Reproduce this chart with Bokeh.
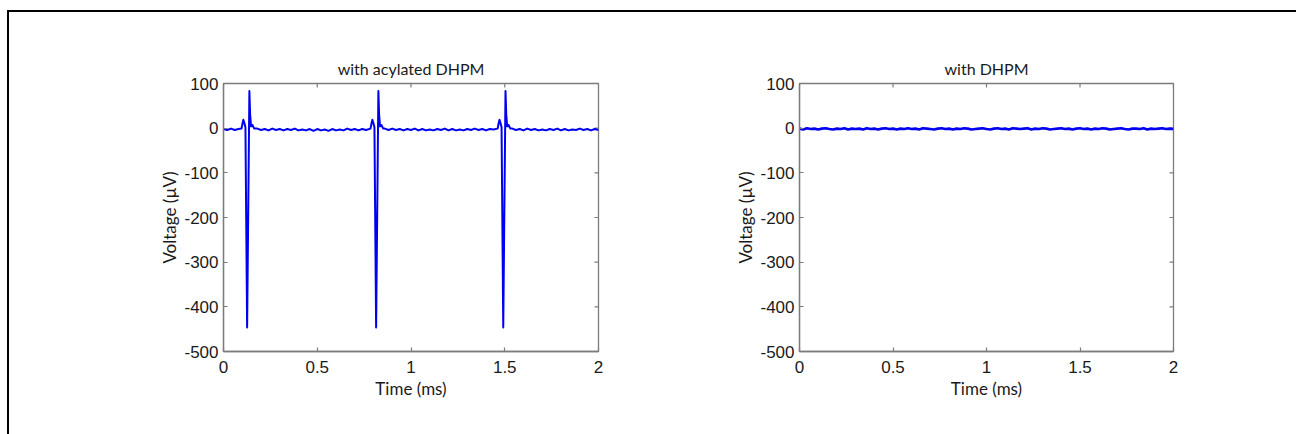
import math
from bokeh.plotting import figure
from bokeh.models import FixedTicker, Range1d, Div
from bokeh.layouts import row, column
from bokeh.embed import file_html
from bokeh.resources import INLINE

# ---------------- data ----------------
titles = ["with acylated DHPM", "with DHPM"]
x_label = "Time (ms)"
y_label = "Voltage (\u00b5V)"

x_ticks = [0, 0.5, 1, 1.5, 2]
x_tick_labels = ["0", "0.5", "1", "1.5", "2"]
y_ticks = [-500, -400, -300, -200, -100, 0, 100]
y_tick_labels = ["-500", "-400", "-300", "-200", "-100", "0", "100"]

# trace recorded with acylated DHPM (three spikes)
acyl_time = [
    0.00, 0.02, 0.04, 0.06, 0.08,
    0.096, 0.101, 0.106, 0.111, 0.117, 0.126, 0.138, 0.142, 0.147, 0.154, 0.164,
    0.18, 0.20, 0.22, 0.24, 0.26, 0.28, 0.30, 0.32, 0.34, 0.36,
    0.38, 0.40, 0.42, 0.44, 0.46, 0.48, 0.50, 0.52, 0.54, 0.56,
    0.58, 0.60, 0.62, 0.64, 0.66, 0.68, 0.70, 0.72, 0.74, 0.76,
    0.784, 0.789, 0.794, 0.799, 0.805, 0.814, 0.826, 0.830, 0.835, 0.842, 0.852,
    0.86, 0.88, 0.90, 0.92, 0.94, 0.96, 0.98, 1.00, 1.02, 1.04,
    1.06, 1.08, 1.10, 1.12, 1.14, 1.16, 1.18, 1.20, 1.22, 1.24,
    1.26, 1.28, 1.30, 1.32, 1.34, 1.36, 1.38, 1.40, 1.42, 1.44,
    1.462, 1.467, 1.472, 1.477, 1.483, 1.492, 1.504, 1.508, 1.513, 1.520, 1.530,
    1.54, 1.56, 1.58, 1.60, 1.62, 1.64, 1.66, 1.68, 1.70, 1.72,
    1.74, 1.76, 1.78, 1.80, 1.82, 1.84, 1.86, 1.88, 1.90, 1.92,
    1.94, 1.96, 1.98, 2.00,
]
acyl_voltage = [
    -2, -4, -1, -4, -2,
    -1, 10, 19, 12, 2, -446, 83, 30, 4, 7, -1,
    -1, -4, -2, -5, -1, -4, -2, -5, -2, -4,
    -1, -5, -3, -5, -2, -6, -2, -5, -3, -6,
    -2, -5, -3, -5, -1, -4, -2, -5, -2, -4,
    -1, 10, 19, 12, 2, -446, 83, 30, 4, 7, -1,
    -1, -4, -1, -4, -2, -5, -2, -4, -1, -5,
    -2, -5, -3, -5, -2, -4, -1, -5, -2, -5,
    -3, -5, -2, -4, -1, -4, -2, -5, -2, -3,
    -1, 10, 19, 12, 2, -446, 83, 30, 4, 7, -1,
    -1, -4, -2, -5, -1, -4, -2, -5, -3, -5,
    -2, -4, -1, -5, -2, -5, -3, -4, -1, -4,
    -2, -5, -2, -4,
]

# trace recorded with DHPM (flat)
dhpm_time = [
    0.00, 0.02, 0.04, 0.06, 0.08, 0.10, 0.12, 0.14, 0.16, 0.18,
    0.20, 0.22, 0.24, 0.26, 0.28, 0.30, 0.32, 0.34, 0.36, 0.38,
    0.40, 0.42, 0.44, 0.46, 0.48, 0.50, 0.52, 0.54, 0.56, 0.58,
    0.60, 0.62, 0.64, 0.66, 0.68, 0.70, 0.72, 0.74, 0.76, 0.78,
    0.80, 0.82, 0.84, 0.86, 0.88, 0.90, 0.92, 0.94, 0.96, 0.98,
    1.00, 1.02, 1.04, 1.06, 1.08, 1.10, 1.12, 1.14, 1.16, 1.18,
    1.20, 1.22, 1.24, 1.26, 1.28, 1.30, 1.32, 1.34, 1.36, 1.38,
    1.40, 1.42, 1.44, 1.46, 1.48, 1.50, 1.52, 1.54, 1.56, 1.58,
    1.60, 1.62, 1.64, 1.66, 1.68, 1.70, 1.72, 1.74, 1.76, 1.78,
    1.80, 1.82, 1.84, 1.86, 1.88, 1.90, 1.92, 1.94, 1.96, 1.98,
    2.00,
]
dhpm_voltage = [
    -1, -3, 0, -2, -1, -3, -1, 0, -2, -3,
    -1, -2, 0, -3, -1, -2, -1, -3, 0, -2,
    -1, -3, -1, 0, -2, -1, -3, -1, -2, 0,
    -2, -1, -3, 0, -1, -2, -3, -1, 0, -2,
    -1, -3, -1, -2, 0, -1, -3, -2, -1, 0,
    -2, -3, -1, 0, -2, -1, -3, 0, -1, -2,
    -1, 0, -3, -1, -2, 0, -1, -3, -2, -1,
    0, -2, -1, -3, -1, 0, -2, -1, -3, -1,
    -2, 0, -1, -3, -2, -1, 0, -2, -3, -1,
    -1, -2, 0, -3, -1, -2, -1, 0, -2, -1,
    -2,
]

# ---------------- styling ----------------
GRAY = "#7c7c7c"
TRACE = "#0000f0"
TEXT = "#1a1a1a"
TICK_FONT = "Liberation Sans"
LABEL_FONT = "Lato"
FIG_H = 420


def make_panel(title, t, v, width, mb_left, mb_right, mb_top, mb_bottom, lw):
    p = figure(width=width, height=FIG_H, output_backend="svg", toolbar_location=None,
               x_range=Range1d(x_ticks[0], x_ticks[-1]),
               y_range=Range1d(y_ticks[0], y_ticks[-1]),
               min_border_left=mb_left, min_border_right=mb_right,
               min_border_top=mb_top, min_border_bottom=mb_bottom,
               title=title)
    p.title.align = "center"
    p.title.text_font = LABEL_FONT
    p.title.text_font_size = "16px"
    p.title.text_font_style = "normal"
    p.title.text_color = TEXT
    p.title.standoff = 11
    p.grid.visible = False
    p.outline_line_color = GRAY
    p.outline_line_width = 1.3
    p.background_fill_color = "white"
    p.border_fill_color = "white"

    labels_x = {tk: lb for tk, lb in zip(x_ticks, x_tick_labels)}
    labels_y = {tk: lb for tk, lb in zip(y_ticks, y_tick_labels)}

    for ax, ticks, labs, lab in ((p.xaxis[0], x_ticks, labels_x, x_label),
                                 (p.yaxis[0], y_ticks, labels_y, y_label)):
        ax.ticker = FixedTicker(ticks=ticks)
        ax.major_label_overrides = labs
        ax.axis_label = lab
        ax.axis_label_text_font = LABEL_FONT
        ax.axis_label_text_font_size = "17px"
        ax.axis_label_text_font_style = "normal"
        ax.axis_label_text_color = TEXT
        ax.major_label_text_font = TICK_FONT
        ax.major_label_text_font_size = "17px"
        ax.major_label_text_color = TEXT
        ax.axis_line_color = GRAY
        ax.axis_line_width = 1.3
        ax.major_tick_line_color = GRAY
        ax.major_tick_line_width = 1.2
        ax.major_tick_in = 4
        ax.major_tick_out = 0
        ax.minor_tick_line_color = None
    p.xaxis[0].major_label_standoff = 9
    p.xaxis[0].axis_label_standoff = 2
    p.yaxis[0].major_label_standoff = 5
    p.yaxis[0].axis_label_standoff = 1

    # mirrored tick marks on the top and right edges of the box (clipped to the frame)
    p.scatter(x_ticks, [y_ticks[-1]] * len(x_ticks), marker="dash", size=8,
              angle=math.pi / 2, line_color=GRAY, line_width=1.2)
    p.scatter([x_ticks[-1]] * len(y_ticks), y_ticks, marker="dash", size=8,
              line_color=GRAY, line_width=1.2)

    p.line(t, v, line_color=TRACE, line_width=lw, line_join="round")
    return p


p1 = make_panel(titles[0], acyl_time, acyl_voltage, 644, 214, 55, 71, 80, 2.0)
p2 = make_panel(titles[1], dhpm_time, dhpm_voltage, 643, 146, 123, 69, 81, 2.6)

top_rule = Div(text="", width=1289, height=2, margin=0,
               styles={"background-color": "black"})
left_rule = Div(text="", width=2, height=422, margin=0,
                styles={"background-color": "black"})

layout = column(top_rule, row(left_rule, p1, p2),
                styles={"margin-left": "7px", "margin-top": "10px"})

open("out.html", "w").write(file_html(layout, INLINE))
